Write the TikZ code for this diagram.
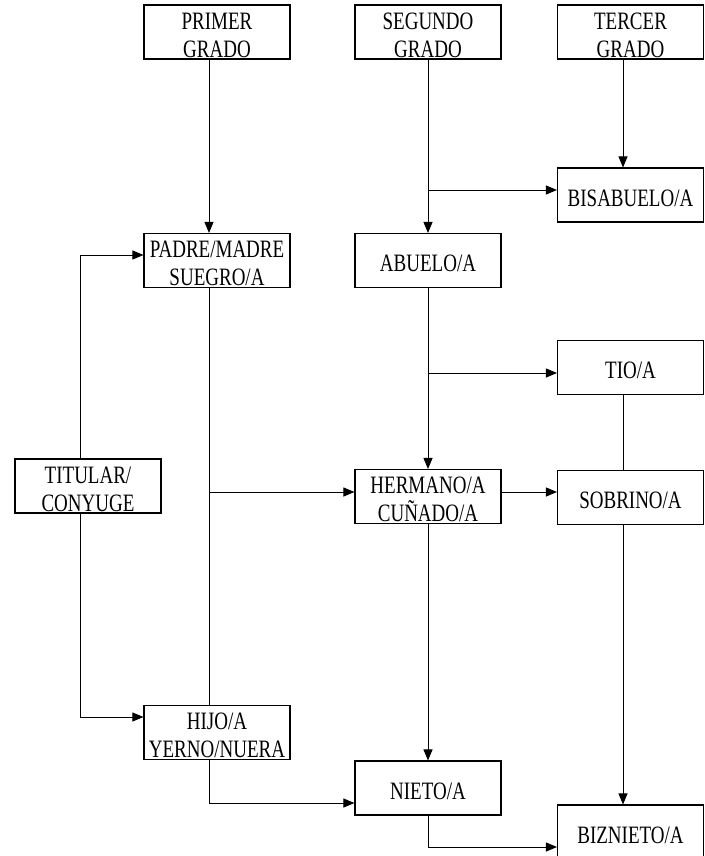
\documentclass[tikz,border=0pt]{standalone}
\usepackage{fontspec}
\setmainfont{Liberation Serif}
\newfontfamily\condserif{Liberation Serif}[FakeStretch=0.76]
\usetikzlibrary{arrows.meta}
\begin{document}
\begin{tikzpicture}[x=1pt,y=1pt,
  box/.style={draw, line width=1.1pt, minimum width=146pt, minimum height=54pt, inner sep=0pt},
  txt/.style={font=\condserif\fontsize{25}{28}\selectfont, align=center, inner sep=0pt},
  con/.style={line width=0.9pt},
  arr/.style={con, -{Triangle[length=11pt,width=9pt]}}]
\fill[white] (0,0) rectangle (704,-856);
\useasboundingbox (0,0) rectangle (704,-856);
% boxes
\node[box] (prim)  at (217,-32)    {};
\node[box] (seg)   at (428,-32)    {};
\node[box] (ter)   at (630.5,-32)  {};
\node[box] (bis)   at (630.5,-195) {};
\node[box] (padre) at (217,-260.5) {};
\node[box] (abu)   at (428,-260.5) {};
\node[box] (tio)   at (630.5,-367.5) {};
\node[box] (tit)   at (88,-486)    {};
\node[box] (her)   at (428,-496.5) {};
\node[box] (sob)   at (630.5,-497.5) {};
\node[box] (hijo)  at (217,-732.5) {};
\node[box] (nieto) at (428,-788)   {};
\node[box] (biz)   at (630.5,-832) {};
% texts
\node[txt] (tprim)  at ([yshift=-3pt]prim.center)  {PRIMER\\GRADO};
\node[txt] (tseg)   at ([yshift=-3pt]seg.center)   {SEGUNDO\\GRADO};
\node[txt] (tter)   at ([yshift=-3pt]ter.center)   {TERCER\\GRADO};
\node[txt] (tbis)   at ([yshift=-3pt]bis.center)   {BISABUELO/A};
\node[txt] (tpadre) at ([yshift=-3pt]padre.center) {PADRE/MADRE\\SUEGRO/A};
\node[txt] (tabu)   at ([yshift=-3pt]abu.center)   {ABUELO/A};
\node[txt] (ttio)   at ([yshift=-3pt]tio.center)   {TIO/A};
\node[txt] (ttit)   at ([yshift=-3pt]tit.center)   {TITULAR/\\CONYUGE};
\node[txt] (ther)   at ([yshift=-3pt]her.center)   {HERMANO/A\\CUÑADO/A};
\node[txt] (tsob)   at ([yshift=-3pt]sob.center)   {SOBRINO/A};
\node[txt] (thijo)  at ([yshift=-3pt]hijo.center)  {HIJO/A\\YERNO/NUERA};
\node[txt] (tnieto) at ([yshift=-3pt]nieto.center) {NIETO/A};
\node[txt] (tbiz)   at ([yshift=-3pt]biz.center)   {BIZNIETO/A};
% helper coordinates
\coordinate (pb) at ([xshift=-8pt]padre.south);
\coordinate (jb) at ([yshift=5pt]bis.west);
\coordinate (jp) at ([yshift=5.5pt]padre.west);
\coordinate (jh) at ([yshift=15.5pt]hijo.west);
\coordinate (jhe) at ([yshift=4.5pt]her.west);
\coordinate (jt) at ([yshift=-5.5pt]tio.west);
\coordinate (js) at ([yshift=5.5pt]sob.west);
\coordinate (jn) at ([yshift=-15pt]nieto.west);
\coordinate (jz) at ([yshift=-15pt]biz.west);
% connectors
\draw[arr] ([xshift=-8pt]prim.south) -- ([xshift=-8pt]padre.north);
\draw[arr] (seg.south) -- (abu.north);
\draw[arr] ([xshift=-7.5pt]ter.south) -- ([xshift=-7.5pt]bis.north);
\draw[arr] (seg.south |- jb) -- (jb);
\draw[arr] ([xshift=-8pt]tit.north) |- (jp);
\draw[arr] ([xshift=-8pt]tit.south) |- (jh);
\draw[con] (pb) -- ([xshift=-8pt]hijo.north);
\draw[arr] (pb |- jhe) -- (jhe);
\draw[arr] (abu.south) -- (her.north);
\draw[arr] (abu.south |- jt) -- (jt);
\draw[con] ([xshift=-7.5pt]tio.south) -- ([xshift=-7.5pt]sob.north);
\draw[arr] (her.east |- js) -- (js);
\draw[arr] (her.south) -- (nieto.north);
\draw[arr] ([xshift=-7.5pt]sob.south) -- ([xshift=-7.5pt]biz.north);
\draw[arr] ([xshift=-8pt]hijo.south) |- (jn);
\draw[arr] (nieto.south) |- (jz);
\end{tikzpicture}
\end{document}
